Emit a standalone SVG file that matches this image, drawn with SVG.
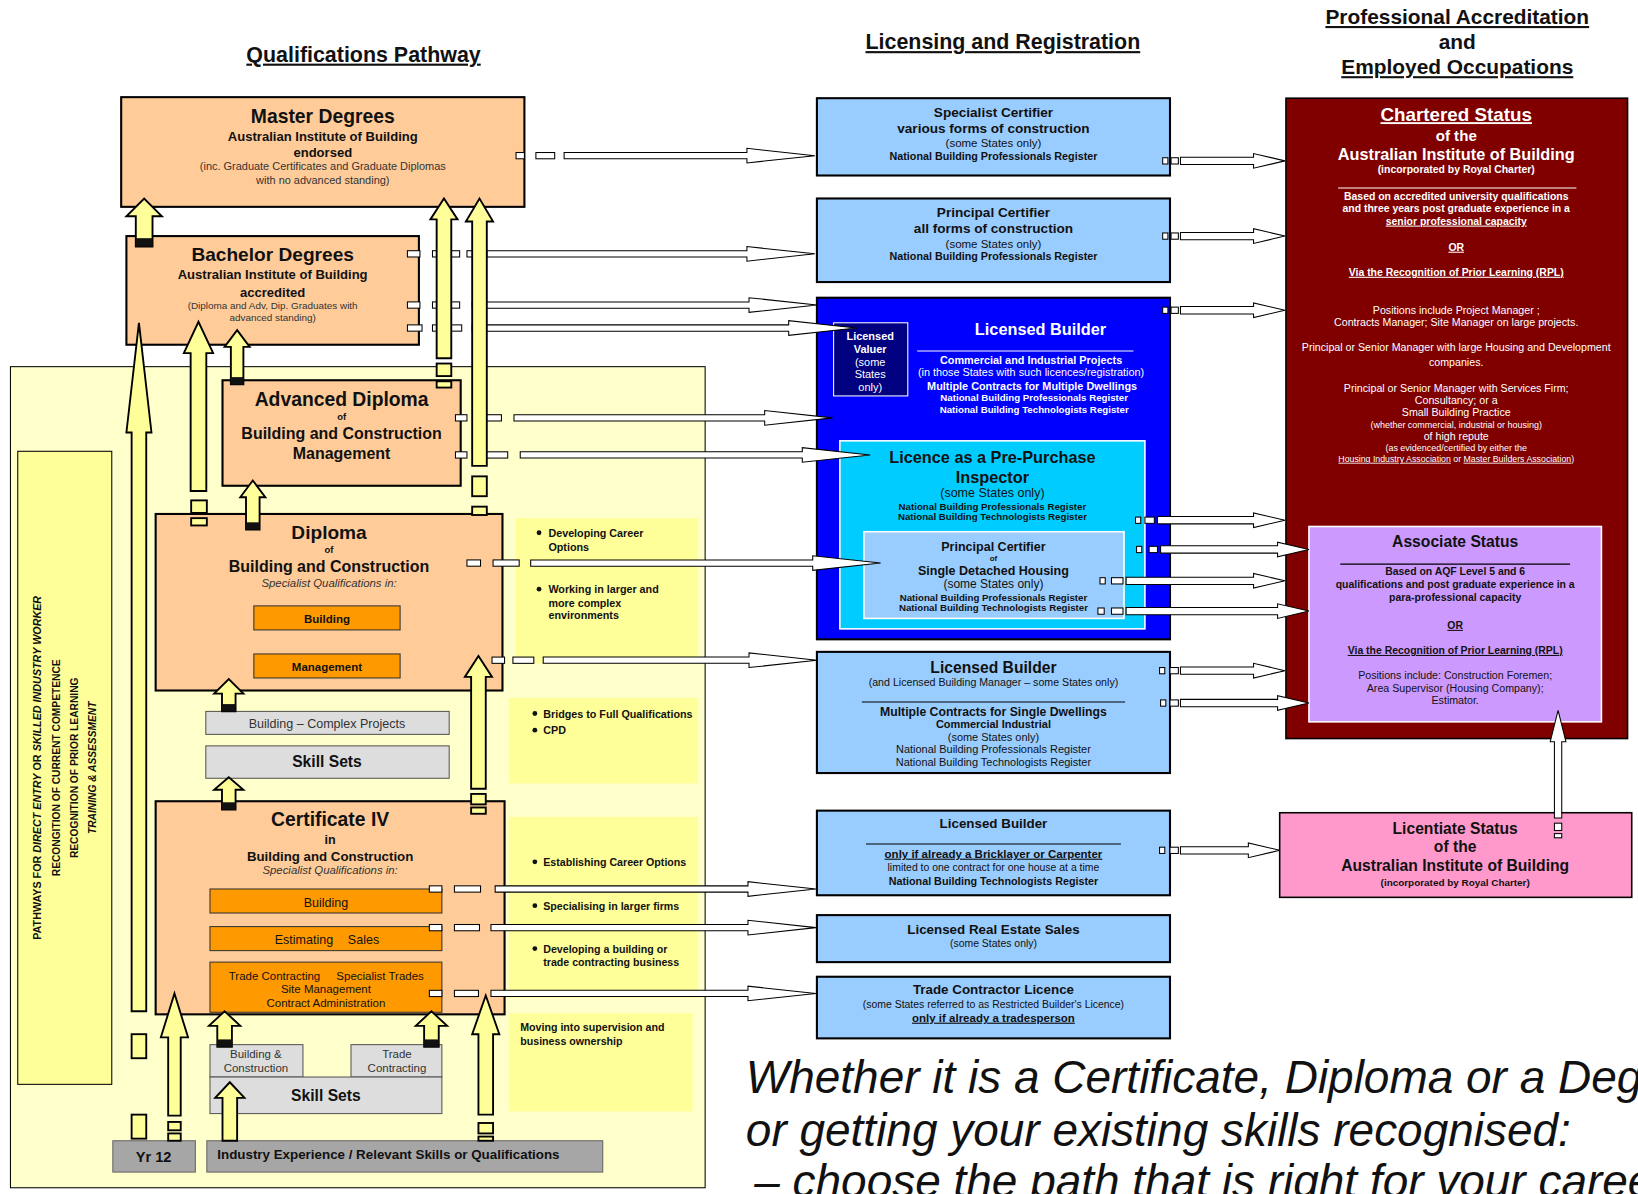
<svg xmlns="http://www.w3.org/2000/svg" width="1638" height="1194" viewBox="0 0 1638 1194">
<defs>
<style>
text{font-family:"Liberation Sans",Arial,sans-serif;fill:#111;text-anchor:middle}
.b{font-weight:bold}
.i{font-style:italic}
.u{text-decoration:underline}
.st{text-anchor:start}
.w{fill:#fff}
.g{fill:#333}
.ob{fill:#FFCC99;stroke:#000;stroke-width:2}
.sub{fill:#FF9900;stroke:#333;stroke-width:1}
.gray{fill:#DDDDDD;stroke:#555;stroke-width:1}
.dg{fill:#A6A6A6;stroke:#666;stroke-width:1}
.lb{fill:#99CCFF;stroke:#000;stroke-width:2}
.yb{fill:#FFFF99}
.ya{fill:#FFFF99;stroke:#000;stroke-width:1.8;stroke-linejoin:miter}
.wa{fill:#fff;stroke:#000;stroke-width:1}
.band{fill:#111}
</style>
</defs>
<rect width="1638" height="1194" fill="#fff"/>
<g transform="scale(1.04464)">

<!-- titles -->
<g id="titles">
<text class="b u" x="348" y="59" font-size="20.5">Qualifications Pathway</text>
<text class="b u" x="960" y="47" font-size="20.5">Licensing and Registration</text>
<text class="b u" x="1395" y="23" font-size="20">Professional Accreditation</text>
<text class="b" x="1395" y="47" font-size="20">and</text>
<text class="b u" x="1395" y="71" font-size="20">Employed Occupations</text>
</g>

<!-- background pathway region -->
<g id="pathway-region">
<rect x="10" y="351" width="665" height="786" fill="#FFFFCC" stroke="#000" stroke-width="1"/>
<rect x="17" y="432" width="90" height="606" fill="#FFFF99" stroke="#000" stroke-width="1"/>
<text class="b" font-size="10.3" transform="translate(39.5,735) rotate(-90)">PATHWAYS FOR <tspan class="i">DIRECT ENTRY</tspan> OR <tspan class="i">SKILLED INDUSTRY WORKER</tspan></text>
<text class="b" font-size="9.8" transform="translate(57.5,735) rotate(-90)">RECONGITION OF CURRENT COMPETENCE</text>
<text class="b" font-size="9.8" transform="translate(74.5,735) rotate(-90)">RECOGNITION OF PRIOR LEARNING</text>
<text class="b i" font-size="9.8" transform="translate(91.5,735) rotate(-90)">TRAINING &amp; ASSESSMENT</text>
</g>

<!-- bullet notes -->
<g id="notes">
<rect class="yb" x="494" y="496" width="174" height="139"/>
<circle cx="516" cy="510" r="2.3" fill="#111"/>
<text class="b st" x="525" y="514" font-size="10.3">Developing Career</text>
<text class="b st" x="525" y="527" font-size="10.3">Options</text>
<circle cx="516" cy="564" r="2.3" fill="#111"/>
<text class="b st" x="525" y="568" font-size="10.3">Working in larger and</text>
<text class="b st" x="525" y="581" font-size="10.3">more complex</text>
<text class="b st" x="525" y="593" font-size="10.3">environments</text>

<rect class="yb" x="487" y="668" width="181" height="82"/>
<circle cx="512" cy="683" r="2.3" fill="#111"/>
<text class="b st" x="520" y="687" font-size="10.3">Bridges to Full Qualifications</text>
<circle cx="512" cy="699" r="2.3" fill="#111"/>
<text class="b st" x="520" y="703" font-size="10.3">CPD</text>

<rect class="yb" x="487" y="782" width="181" height="173"/>
<circle cx="512" cy="825" r="2.3" fill="#111"/>
<text class="b st" x="520" y="829" font-size="10.2">Establishing Career Options</text>
<circle cx="512" cy="867" r="2.3" fill="#111"/>
<text class="b st" x="520" y="871" font-size="10.2">Specialising in larger firms</text>
<circle cx="512" cy="908" r="2.3" fill="#111"/>
<text class="b st" x="520" y="912" font-size="10.2">Developing a building or</text>
<text class="b st" x="520" y="925" font-size="10.2">trade contracting business</text>

<rect class="yb" x="487" y="970" width="176" height="94"/>
<text class="b st" x="498" y="987" font-size="10.2">Moving into supervision and</text>
<text class="b st" x="498" y="1000" font-size="10.2">business ownership</text>
</g>

<!-- qualification nodes -->
<g id="master">
<rect class="ob" x="116" y="93" width="386" height="105"/>
<text class="b" x="309" y="118" font-size="18.5">Master Degrees</text>
<text class="b" x="309" y="135" font-size="12.5">Australian Institute of Building</text>
<text class="b" x="309" y="150" font-size="12.5">endorsed</text>
<text class="g" x="309" y="163" font-size="10.5">(inc. Graduate Certificates and Graduate Diplomas</text>
<text class="g" x="309" y="176" font-size="10.5">with no advanced standing)</text>
</g>
<g id="bachelor">
<rect class="ob" x="121" y="226" width="280" height="104"/>
<text class="b" x="261" y="250" font-size="18.3">Bachelor Degrees</text>
<text class="b" x="261" y="267" font-size="12.5">Australian Institute of Building</text>
<text class="b" x="261" y="284" font-size="12.5">accredited</text>
<text class="g" x="261" y="296" font-size="9.5">(Diploma and Adv, Dip. Graduates with</text>
<text class="g" x="261" y="307" font-size="9.5">advanced standing)</text>
</g>
<g id="adv-diploma">
<rect class="ob" x="213" y="364" width="228" height="101"/>
<text class="b" x="327" y="389" font-size="18.5">Advanced Diploma</text>
<text class="b" x="327" y="402" font-size="9">of</text>
<text class="b" x="327" y="420" font-size="15.3">Building and Construction</text>
<text class="b" x="327" y="439" font-size="15.3">Management</text>
</g>
<g id="diploma">
<rect class="ob" x="149" y="492" width="332" height="169"/>
<text class="b" x="315" y="516" font-size="18.3">Diploma</text>
<text class="b" x="315" y="529" font-size="9">of</text>
<text class="b" x="315" y="548" font-size="15.3">Building and Construction</text>
<text class="i g" x="315" y="562" font-size="10.9">Specialist Qualifications in:</text>
<rect class="sub" x="243" y="580" width="140" height="23"/>
<text class="b" x="313" y="596" font-size="11">Building</text>
<rect class="sub" x="243" y="626" width="140" height="23"/>
<text class="b" x="313" y="642" font-size="11">Management</text>
</g>
<g id="skill-complex">
<rect class="gray" x="197" y="681" width="233" height="22"/>
<text class="g" x="313" y="697" font-size="12">Building – Complex Projects</text>
</g>
<g id="skill-sets-1">
<rect class="gray" x="197" y="714" width="233" height="31"/>
<text class="b" x="313" y="734" font-size="15">Skill Sets</text>
</g>
<g id="cert-iv">
<rect class="ob" x="149" y="767" width="334" height="204"/>
<text class="b" x="316" y="791" font-size="18.5">Certificate IV</text>
<text class="b" x="316" y="808" font-size="12">in</text>
<text class="b" x="316" y="824" font-size="12.7">Building and Construction</text>
<text class="i g" x="316" y="837" font-size="10.9">Specialist Qualifications in:</text>
<rect class="sub" x="201" y="851" width="222" height="23"/>
<text x="312" y="868" font-size="12">Building</text>
<rect class="sub" x="201" y="887" width="222" height="23"/>
<text class="st" x="263" y="904" font-size="12">Estimating</text>
<text class="st" x="333" y="904" font-size="12">Sales</text>
<rect class="sub" x="201" y="921" width="222" height="48"/>
<text class="st" x="219" y="938" font-size="11">Trade Contracting</text>
<text class="st" x="322" y="938" font-size="11">Specialist Trades</text>
<text x="312" y="951" font-size="11">Site Management</text>
<text x="312" y="964" font-size="11">Contract Administration</text>
</g>
<g id="skill-bc">
<rect class="gray" x="201" y="1000" width="89" height="31"/>
<text class="g" x="245" y="1013" font-size="11">Building &amp;</text>
<text class="g" x="245" y="1026" font-size="11">Construction</text>
</g>
<g id="skill-tc">
<rect class="gray" x="336" y="1000" width="87" height="31"/>
<text class="g" x="380" y="1013" font-size="11">Trade</text>
<text class="g" x="380" y="1026" font-size="11">Contracting</text>
</g>
<g id="skill-sets-2">
<rect class="gray" x="201" y="1031" width="222" height="35"/>
<text class="b" x="312" y="1054" font-size="15">Skill Sets</text>
</g>
<g id="yr12">
<rect class="dg" x="108" y="1092" width="79" height="30"/>
<text class="b" x="147" y="1112" font-size="14">Yr 12</text>
</g>
<g id="industry">
<rect class="dg" x="198" y="1092" width="379" height="30"/>
<text class="b st" x="208" y="1109" font-size="12.8">Industry Experience / Relevant Skills or Qualifications</text>
</g>

<!-- licensing nodes -->
<g id="specialist-certifier">
<rect class="lb" x="782" y="94" width="338" height="74"/>
<text class="b" x="951" y="112" font-size="13">Specialist Certifier</text>
<text class="b" x="951" y="127" font-size="13">various forms of construction</text>
<text x="951" y="141" font-size="11">(some States only)</text>
<text class="b" x="951" y="153" font-size="10.3">National Building Professionals Register</text>
</g>
<g id="principal-certifier">
<rect class="lb" x="782" y="190" width="338" height="80"/>
<text class="b" x="951" y="208" font-size="13">Principal Certifier</text>
<text class="b" x="951" y="223" font-size="13">all forms of construction</text>
<text x="951" y="237" font-size="11">(some States only)</text>
<text class="b" x="951" y="249" font-size="10.3">National Building Professionals Register</text>
</g>
<g id="licensed-builder-commercial">
<rect x="782" y="285" width="338" height="327" fill="#0000FF" stroke="#000" stroke-width="2"/>
<text class="b w" x="996" y="321" font-size="15.6">Licensed Builder</text>
<line x1="878" y1="336" x2="1085" y2="336" stroke="#fff" stroke-width="1"/>
<text class="b w" x="987" y="348" font-size="10.4">Commercial and Industrial Projects</text>
<text class="w" x="987" y="360" font-size="10.4">(in those States with such licences/registration)</text>
<text class="b w" x="988" y="373" font-size="10.4">Multiple Contracts for Multiple Dwellings</text>
<text class="b w" x="990" y="384" font-size="9.3">National Building Professionals Register</text>
<text class="b w" x="990" y="395" font-size="9.3">National Building Technologists Register</text>
</g>
<g id="licensed-valuer">
<rect x="798" y="309" width="71" height="70" fill="#000080" stroke="#fff" stroke-width="1"/>
<text class="b w" x="833" y="325" font-size="10.5">Licensed</text>
<text class="b w" x="833" y="338" font-size="10.5">Valuer</text>
<text class="w" x="833" y="350" font-size="10.5">(some</text>
<text class="w" x="833" y="362" font-size="10.5">States</text>
<text class="w" x="833" y="374" font-size="10.5">only)</text>
</g>
<g id="pre-purchase">
<rect x="804" y="422" width="292" height="180" fill="#00CCFF" stroke="#fff" stroke-width="1.5"/>
<text class="b" x="950" y="443" font-size="15.6">Licence as a Pre-Purchase</text>
<text class="b" x="950" y="462" font-size="15.6">Inspector</text>
<text x="950" y="476" font-size="12">(some States only)</text>
<text class="b" x="950" y="488" font-size="9.3">National Building Professionals Register</text>
<text class="b" x="950" y="498" font-size="9.3">National Building Technologists Register</text>
</g>
<g id="principal-certifier-housing">
<rect x="827" y="509" width="249" height="83" fill="#99CCFF" stroke="#fff" stroke-width="1.5"/>
<text class="b" x="951" y="527" font-size="12">Principal Certifier</text>
<text class="b" x="951" y="537" font-size="7.5">of</text>
<text class="b" x="951" y="550" font-size="12">Single Detached Housing</text>
<text x="951" y="563" font-size="11.5">(some States only)</text>
<text class="b" x="951" y="575" font-size="9.3">National Building Professionals Register</text>
<text class="b" x="951" y="585" font-size="9.3">National Building Technologists Register</text>
</g>
<g id="licensed-builder-dwellings">
<rect class="lb" x="782" y="624" width="338" height="116"/>
<text class="b" x="951" y="644" font-size="15">Licensed Builder</text>
<text x="951" y="657" font-size="10.2">(and Licensed Building Manager – some States only)</text>
<line x1="825" y1="672" x2="1077" y2="672" stroke="#000" stroke-width="1"/>
<text class="b" x="951" y="685" font-size="11.7">Multiple Contracts for Single Dwellings</text>
<text class="b" x="951" y="697" font-size="10.5">Commercial Industrial</text>
<text x="951" y="709" font-size="10.5">(some States only)</text>
<text x="951" y="721" font-size="10.5">National Building Professionals Register</text>
<text x="951" y="733" font-size="10.5">National Building Technologists Register</text>
</g>
<g id="licensed-builder-trade">
<rect class="lb" x="782" y="776" width="338" height="81"/>
<text class="b" x="951" y="793" font-size="12.8">Licensed Builder</text>
<line x1="829" y1="808" x2="1073" y2="808" stroke="#000" stroke-width="1"/>
<text class="b u" x="951" y="821" font-size="11">only if already a Bricklayer or Carpenter</text>
<text x="951" y="834" font-size="10">limited to one contract for one house at a time</text>
<text class="b" x="951" y="847" font-size="10.3">National Building Technologists Register</text>
</g>
<g id="real-estate">
<rect class="lb" x="782" y="876" width="338" height="45"/>
<text class="b" x="951" y="894" font-size="12.8">Licensed Real Estate Sales</text>
<text x="951" y="907" font-size="10">(some States only)</text>
</g>
<g id="trade-contractor">
<rect class="lb" x="782" y="935" width="338" height="59"/>
<text class="b" x="951" y="952" font-size="12.8">Trade Contractor Licence</text>
<text x="951" y="965" font-size="10">(some States referred to as Restricted Builder's Licence)</text>
<text class="b u" x="951" y="978" font-size="11">only if already a tradesperson</text>
</g>

<!-- accreditation nodes -->
<g id="chartered">
<rect x="1231" y="94" width="327" height="613" fill="#800000" stroke="#000" stroke-width="1.5"/>
<text class="b w u" x="1394" y="116" font-size="18">Chartered Status</text>
<text class="b w" x="1394" y="135" font-size="14.5">of the</text>
<text class="b w" x="1394" y="153" font-size="15.6">Australian Institute of Building</text>
<text class="b w" x="1394" y="166" font-size="10">(incorporated by Royal Charter)</text>
<line x1="1281" y1="180" x2="1509" y2="180" stroke="#fff" stroke-width="1"/>
<text class="b w" x="1394" y="191" font-size="10">Based on accredited  university qualifications</text>
<text class="b w" x="1394" y="203" font-size="10">and three years post graduate experience in a</text>
<text class="b w u" x="1394" y="215" font-size="10">senior professional capacity</text>
<text class="b w u" x="1394" y="240" font-size="10">OR</text>
<text class="b w u" x="1394" y="264" font-size="10">Via the Recognition of Prior Learning (RPL)</text>
<text class="w" x="1394" y="301" font-size="10.2">Positions include Project Manager ;</text>
<text class="w" x="1394" y="312" font-size="10.2">Contracts Manager; Site Manager on large projects.</text>
<text class="w" x="1394" y="336" font-size="10.2">Principal or Senior Manager with large Housing and Development</text>
<text class="w" x="1394" y="350" font-size="10.2">companies.</text>
<text class="w" x="1394" y="375" font-size="10.2">Principal or Senior Manager with Services Firm;</text>
<text class="w" x="1394" y="387" font-size="10.2">Consultancy; or a</text>
<text class="w" x="1394" y="398" font-size="10.2">Small Building Practice</text>
<text class="w" x="1394" y="410" font-size="8.6">(whether commercial, industrial or housing)</text>
<text class="w" x="1394" y="421" font-size="10.2">of high repute</text>
<text class="w" x="1394" y="432" font-size="8.6">(as evidenced/certified by either the</text>
<text class="w" x="1394" y="442" font-size="8.4"><tspan class="u">Housing Industry Association</tspan> or <tspan class="u">Master Builders Association</tspan>)</text>
</g>
<g id="associate">
<rect x="1253" y="504" width="280" height="187" fill="#CC99FF" stroke="#fff" stroke-width="1.5"/>
<text class="b" x="1393" y="524" font-size="15">Associate Status</text>
<line x1="1283" y1="540" x2="1503" y2="540" stroke="#000" stroke-width="1"/>
<text class="b" x="1393" y="550" font-size="10">Based on AQF Level 5 and 6</text>
<text class="b" x="1393" y="563" font-size="10">qualifications and post graduate experience in a</text>
<text class="b" x="1393" y="575" font-size="10">para-professional capacity</text>
<text class="b u" x="1393" y="602" font-size="10">OR</text>
<text class="b u" x="1393" y="626" font-size="10">Via the Recognition of Prior Learning (RPL)</text>
<text x="1393" y="650" font-size="10.2">Positions include: Construction Foremen;</text>
<text x="1393" y="662" font-size="10.2">Area Supervisor (Housing Company);</text>
<text x="1393" y="674" font-size="10.2">Estimator.</text>
</g>
<g id="licentiate">
<rect x="1225" y="778" width="337" height="81" fill="#FF99CC" stroke="#000" stroke-width="1.5"/>
<text class="b" x="1393" y="798" font-size="15">Licentiate Status</text>
<text class="b" x="1393" y="816" font-size="15">of the</text>
<text class="b" x="1393" y="834" font-size="15">Australian Institute of Building</text>
<text class="b" x="1393" y="848" font-size="9.5">(incorporated by Royal Charter)</text>
</g>

<!-- connectors -->
<g id="connectors">
<!-- qualifications to licensing -->
<rect class="wa" x="494" y="146" width="8" height="6"/><rect class="wa" x="513" y="146" width="18" height="6"/>
<path class="wa" d="M540,146 H715 V142 L780,149 L715,156 V152 H540 Z"/>
<rect class="wa" x="390" y="240" width="12" height="6"/><rect class="wa" x="414" y="240" width="26" height="6"/><rect class="wa" x="447" y="240" width="10" height="6"/>
<path class="wa" d="M466,240 H715 V236 L780,243 L715,250 V246 H466 Z"/>
<rect class="wa" x="390" y="289" width="12" height="6"/><rect class="wa" x="414" y="289" width="26" height="6"/>
<path class="wa" d="M452,289 H717 V285 L782,292 L717,299 V295 H452 Z"/>
<rect class="wa" x="390" y="311" width="14" height="6"/><rect class="wa" x="414" y="311" width="28" height="6"/>
<path class="wa" d="M452,311 H755 V307 L820,314 L755,321 V317 H452 Z"/>
<rect class="wa" x="436" y="397" width="11" height="6"/><rect class="wa" x="465" y="397" width="15" height="6"/>
<path class="wa" d="M492,397 H732 V393 L797,400 L732,407 V403 H492 Z"/>
<rect class="wa" x="436" y="432.5" width="11" height="6"/><rect class="wa" x="465" y="432.5" width="21" height="6"/>
<path class="wa" d="M498,432.5 H768 V428.5 L833,435.5 L768,442.5 V438.5 H498 Z"/>
<rect class="wa" x="447" y="536" width="13" height="6"/><rect class="wa" x="472" y="536" width="25" height="6"/>
<path class="wa" d="M508,536 H778 V532 L843,539 L778,546 V542 H508 Z"/>
<rect class="wa" x="471" y="629" width="12" height="6"/><rect class="wa" x="491" y="629" width="20" height="6"/>
<path class="wa" d="M520,629 H717 V625 L782,632 L717,639 V635 H520 Z"/>
<rect class="wa" x="411" y="848" width="12" height="6"/><rect class="wa" x="435" y="848" width="25" height="6"/>
<path class="wa" d="M474,848 H716 V844 L781,851 L716,858 V854 H474 Z"/>
<rect class="wa" x="411" y="885" width="12" height="6"/><rect class="wa" x="435" y="885" width="24" height="6"/>
<path class="wa" d="M470,885 H716 V881 L781,888 L716,895 V891 H470 Z"/>
<rect class="wa" x="411" y="948" width="12" height="6"/><rect class="wa" x="435" y="948" width="23" height="6"/>
<path class="wa" d="M470,948 H716 V944 L781,951 L716,958 V954 H470 Z"/>

<!-- licensing to accreditation -->
<rect class="wa" x="1113" y="151" width="5" height="6"/><rect class="wa" x="1121" y="151" width="7" height="6"/>
<path class="wa" d="M1130,150.5 H1200 V147 L1230,154 L1200,161 V157.5 H1130 Z"/>
<rect class="wa" x="1113" y="223" width="5" height="6"/><rect class="wa" x="1121" y="223" width="7" height="6"/>
<path class="wa" d="M1130,222.5 H1200 V219 L1230,226 L1200,233 V229.5 H1130 Z"/>
<rect class="wa" x="1113" y="294" width="5" height="6"/><rect class="wa" x="1121" y="294" width="7" height="6"/>
<path class="wa" d="M1130,293.5 H1200 V290 L1230,297 L1200,304 V300.5 H1130 Z"/>
<rect class="wa" x="1087" y="495" width="5" height="6"/><rect class="wa" x="1096" y="495" width="9" height="6"/>
<path class="wa" d="M1108,494.5 H1200 V491 L1230,498 L1200,505 V501.5 H1108 Z"/>
<rect class="wa" x="1088" y="523" width="5" height="6"/><rect class="wa" x="1100" y="523" width="8" height="6"/>
<path class="wa" d="M1111,522.5 H1223 V519 L1253,526 L1223,533 V529.5 H1111 Z"/>
<rect class="wa" x="1053" y="553" width="5" height="6"/><rect class="wa" x="1064" y="553" width="11" height="6"/>
<path class="wa" d="M1078,552.5 H1200 V549 L1230,556 L1200,563 V559.5 H1078 Z"/>
<rect class="wa" x="1051" y="582" width="6" height="6"/><rect class="wa" x="1064" y="582" width="11" height="6"/>
<path class="wa" d="M1078,581.5 H1223 V578 L1253,585 L1223,592 V588.5 H1078 Z"/>
<rect class="wa" x="1110" y="639" width="5" height="6"/><rect class="wa" x="1120" y="639" width="8" height="6"/>
<path class="wa" d="M1130,638.5 H1200 V635 L1230,642 L1200,649 V645.5 H1130 Z"/>
<rect class="wa" x="1111" y="670" width="5" height="6"/><rect class="wa" x="1120" y="670" width="8" height="6"/>
<path class="wa" d="M1130,669.5 H1223 V666 L1253,673 L1223,680 V676.5 H1130 Z"/>
<rect class="wa" x="1110" y="811" width="5" height="6"/><rect class="wa" x="1120" y="811" width="8" height="6"/>
<path class="wa" d="M1130,810.5 H1195 V807 L1225,814 L1195,821 V817.5 H1130 Z"/>
<!-- licentiate to associate -->
<rect class="wa" x="1488" y="788" width="7" height="7"/><rect class="wa" x="1488" y="798" width="7" height="4"/>
<path class="wa" d="M1488,783 V710 H1484 L1491.5,680 L1499,710 H1495 V783 Z"/>

<!-- yellow progression arrows -->
<path class="ya" d="M130,236 V207 H121 L138,190 L155,207 H146 V236 Z"/><rect class="band" x="130" y="228" width="16" height="8"/>
<path class="ya" d="M126,968 V414 H121 L133,309 L145,414 H140 V968 Z"/>
<rect class="ya" x="126" y="990" width="14" height="23"/><rect class="ya" x="126" y="1067" width="14" height="23"/>
<path class="ya" d="M182.5,470 V338 H176 L190,308 L204,338 H197.5 V470 Z"/>
<rect class="ya" x="183" y="479" width="15" height="12"/><rect class="ya" x="183" y="496" width="15" height="7"/>
<path class="ya" d="M221,368 V332 H215 L227,316 L239,332 H233 V368 Z"/><rect class="band" x="221" y="361" width="12" height="7"/>
<path class="ya" d="M235.5,507 V476 H230 L242,460 L254,476 H248.5 V507 Z"/><rect class="band" x="235.5" y="500" width="13" height="7"/>
<path class="ya" d="M418,343 V210 H412 L425,190 L438,210 H432 V343 Z"/>
<rect class="ya" x="418" y="348" width="14" height="12"/><rect class="ya" x="418" y="365" width="14" height="6"/>
<path class="ya" d="M452,446 V212 H446 L459,190 L472,212 H466 V446 Z"/>
<rect class="ya" x="452" y="456" width="14" height="19"/><rect class="ya" x="452" y="485" width="14" height="8"/>
<path class="ya" d="M451,755 V648 H445 L458,628 L471,648 H465 V755 Z"/>
<rect class="ya" x="451" y="760" width="14" height="10"/><rect class="ya" x="451" y="773" width="14" height="6"/>
<path class="ya" d="M212.5,775 V756 H205 L219,744 L233,756 H225.5 V775 Z"/><rect class="band" x="212.5" y="768" width="13" height="7"/>
<path class="ya" d="M212.5,681 V664 H205 L219,650 L233,664 H225.5 V681 Z"/><rect class="band" x="212.5" y="674" width="13" height="7"/>
<path class="ya" d="M161,1068 V993 H154 L167,951 L180,993 H173 V1068 Z"/>
<rect class="ya" x="161" y="1074" width="12" height="8"/><rect class="ya" x="161" y="1085" width="12" height="7"/>
<path class="ya" d="M208,1002 V982 H200 L215,968 L230,982 H222 V1002 Z"/><rect class="band" x="208" y="995" width="14" height="7"/>
<path class="ya" d="M406,1002 V982 H398 L413,968 L428,982 H420 V1002 Z"/><rect class="band" x="406" y="995" width="14" height="7"/>
<path class="ya" d="M213,1092 V1051 H206 L220,1036 L234,1051 H227 V1092 Z"/>
<path class="ya" d="M458,1067 V990 H452 L465,953 L478,990 H472 V1067 Z"/>
<rect class="ya" x="458" y="1075" width="14" height="10"/><rect class="ya" x="458" y="1088" width="14" height="4"/>
</g>

<!-- closing statement -->
<g id="statement">
<text class="i st" x="714" y="1046" font-size="44">Whether it is a Certificate, Diploma or a Degree</text>
<text class="i st" x="714" y="1097" font-size="44">or getting your existing skills recognised:</text>
<text class="i st" x="722" y="1146" font-size="44">– choose the path that is right for your career</text>
</g>
</g>
</svg>
